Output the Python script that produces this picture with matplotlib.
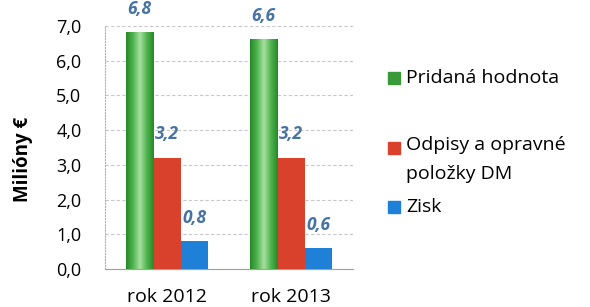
import numpy as np
import matplotlib
matplotlib.use("Agg")
import matplotlib.pyplot as plt
from matplotlib.colors import LinearSegmentedColormap
from matplotlib.patches import Rectangle

years = ["rok 2012", "rok 2013"]
pridana = [6.8, 6.6]
odpisy = [3.2, 3.2]
zisk = [0.8, 0.6]
series_names = ["Pridaná hodnota", "Odpisy a opravné\npoložky DM", "Zisk"]

plt.rcParams['font.family'] = ['Open Sans', 'DejaVu Sans']

fig = plt.figure(figsize=(5.9, 3.07), dpi=100)
ax = fig.add_axes([105/590, 38/307, 248/590, 243/307])

x = np.arange(len(years))
w = 0.22
green = ax.bar(x - w, pridana, w, color="#3a9a3a", zorder=2)
red = ax.bar(x, odpisy, w, color="#d9412c", zorder=2)
blue = ax.bar(x + w, zisk, w, color="#1f80d8", zorder=2)

# zelene stlpce maju gradient (svetly stred)
cmap = LinearSegmentedColormap.from_list("g", ["#258a25", "#4fb34f", "#a8e0a0", "#4fb34f", "#258a25"])
grad = np.linspace(0, 1, 100).reshape(1, -1)
for r in green:
    r.set_alpha(0)
    ax.imshow(grad, extent=[r.get_x(), r.get_x() + r.get_width(), 0, r.get_height()],
              cmap=cmap, aspect="auto", zorder=3)

for bars in (green, red, blue):
    for r in bars:
        ax.text(r.get_x() + r.get_width() / 2, r.get_height() + 0.42,
                f"{r.get_height():.1f}".replace(".", ","),
                ha="center", va="bottom", fontsize=12.5, fontstyle="italic",
                fontweight="bold", color="#4673a3")

ax.set_xlim(-0.5, 1.5)
ax.set_ylim(0, 7)
ax.set_yticks(np.arange(0, 8))
ax.set_yticklabels([f"{v:.1f}".replace(".", ",") for v in np.arange(0, 8)], fontsize=13)
ax.set_xticks(x)
ax.set_xticklabels(years, fontsize=14)
ax.tick_params(axis="y", length=0, pad=17)
ax.tick_params(axis="x", length=0, pad=14)
ax.grid(axis="y", color="#c8c8c8", linestyle=(0, (3, 2)), linewidth=0.8, zorder=0)
for s in ["top", "right"]:
    ax.spines[s].set_visible(False)
ax.spines["left"].set_color("#b0b0b0")
ax.spines["left"].set_linestyle(":")
ax.spines["bottom"].set_color("#a0a0a0")
ax.set_ylabel("Milióny €", fontsize=13.5, fontweight="bold")
ax.yaxis.set_label_coords(-0.29, 0.45)

# legenda
leg_colors = ["#3a9a3a", "#d9412c", "#1f80d8"]
leg_y = [78, 148, 207]
for c, name, yy in zip(leg_colors, series_names, leg_y):
    fig.patches.append(Rectangle((388/590, 1 - (yy + 6)/307), 12/590, 12/307,
                                 transform=fig.transFigure, color=c))
    fig.text(406/590, 1 - yy/307 + (12/307 if "\n" in name else 0), name, fontsize=14,
             va="top" if "\n" in name else "center", ha="left", linespacing=1.8)

fig.savefig("out.png", dpi=100)
